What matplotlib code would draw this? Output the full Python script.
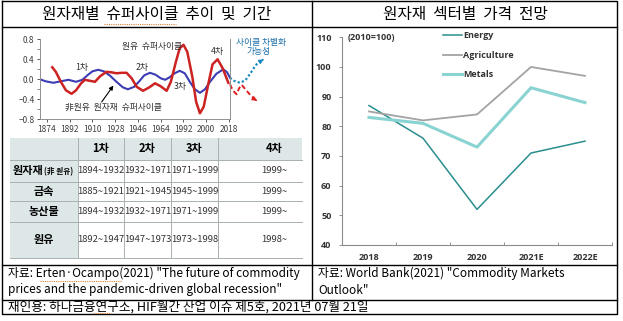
import numpy as np
import matplotlib
matplotlib.use('Agg')
import matplotlib.pyplot as plt
from matplotlib.patches import Rectangle
from matplotlib.ticker import MultipleLocator, FixedLocator

plt.rcParams['font.family'] = ['Noto Sans CJK KR', 'DejaVu Sans']

W, H = 623, 321

# ---- left panel: supercycle curves ----
tick_years = [1874, 1892, 1910, 1928, 1946, 1964, 1982, 2000, 2018]
tick_labels = ['1874', '1892', '1910', '1928', '1946', '1964', '1992', '2000', '2018']

nonoil_x = [1868.5, 1873, 1879, 1885, 1891, 1897, 1902, 1906, 1910, 1914.5, 1919, 1924,
            1929, 1934, 1938, 1943, 1947, 1951, 1955.5, 1960, 1964, 1967.5, 1971, 1975,
            1979, 1983, 1987, 1991, 1995, 1999, 2003, 2008, 2013.5, 2016.5, 2018.8]
nonoil_y = [0.00, -0.04, -0.07, -0.04, -0.01, -0.05, -0.01, 0.08, 0.16, 0.19, 0.16, 0.07,
            -0.05, -0.16, -0.20, -0.15, -0.04, 0.08, 0.13, 0.09, 0.02, -0.01, 0.04, 0.12,
            0.17, 0.12, -0.05, -0.20, -0.27, -0.20, -0.05, 0.11, 0.20, 0.14, 0.03]
nonoil_fx = [2018.8, 2022, 2026.7, 2031, 2035, 2039, 2043.9]
nonoil_fy = [0.03, -0.03, -0.07, -0.02, 0.12, 0.28, 0.39]

oil_x = [1878.2, 1881, 1885, 1889, 1893.5, 1897, 1901, 1904, 1908, 1912, 1916, 1921,
         1925, 1929, 1933, 1937, 1941, 1945, 1950, 1955, 1959.5, 1964, 1968.7, 1972,
         1976, 1979, 1982, 1985, 1989, 1992, 1995, 1998, 2002, 2005, 2009, 2013, 2017.5]
oil_y = [0.24, 0.15, -0.05, -0.22, -0.29, -0.22, -0.08, -0.01, -0.03, -0.05, 0.06, 0.15,
         0.14, 0.12, 0.13, 0.13, 0.02, -0.15, -0.23, -0.16, -0.08, -0.14, -0.23, -0.05,
         0.35, 0.62, 0.69, 0.55, 0.05, -0.45, -0.68, -0.55, -0.05, 0.30, 0.40, 0.22, -0.07]
oil_fx = [2018.8, 2021, 2024, 2026, 2028, 2031, 2035, 2038.6]
oil_fy = [-0.10, -0.22, -0.30, -0.18, -0.11, -0.20, -0.32, -0.40]

# ---- left panel: period table ----
table_cols = ['1차', '2차', '3차', '4차']
table_rows = ['금속', '농산물', '원유']
table_cells = [
    ['1894~1932', '1932~1971', '1971~1999', '1999~'],
    ['1885~1921', '1921~1945', '1945~1999', '1999~'],
    ['1894~1932', '1932~1971', '1971~1999', '1999~'],
    ['1892~1947', '1947~1973', '1973~1998', '1998~'],
]

# ---- right panel: sector price outlook ----
years = ['2018', '2019', '2020', '2021E', '2022E']
energy = [87, 76, 52, 71, 75]
agriculture = [85, 82, 84, 100, 97]
metals = [83, 81, 73, 93, 88]

fig = plt.figure(figsize=(W / 100, H / 100), dpi=100)

# overlay in pixel coordinates for the frame, table and notes
ov = fig.add_axes([0, 0, 1, 1])
ov.set_xlim(0, W)
ov.set_ylim(H, 0)
ov.axis('off')


def px_axes(x0, y0, x1, y1):
    return fig.add_axes([x0 / W, 1 - y1 / H, (x1 - x0) / W, (y1 - y0) / H])


lc = 'black'
ov.plot([2, 617, 617, 2, 2], [1, 1, 314, 314, 1], color=lc, lw=1)
ov.plot([2, 617], [27, 27], color=lc, lw=1)
ov.plot([2, 617], [265, 265], color=lc, lw=1)
ov.plot([2, 617], [300, 300], color=lc, lw=1)
ov.plot([312, 312], [1, 300], color=lc, lw=1)

ov.text(157, 14, '원자재별  슈퍼사이클  추이  및  기간', fontsize=11.3, ha='center', va='center')
ov.text(465, 14, '원자재  섹터별  가격  전망', fontsize=11.3, ha='center', va='center')

# spell-check squiggles seen in the screenshot
sq = dict(color='#e08030', lw=0.8, ls=(0, (1, 1)))
ov.plot([104, 176], [23.5, 23.5], **sq)
ov.plot([40, 122], [281, 281], **sq)
ov.plot([93, 110], [313, 313], **sq)

fs = 8.5
ov.text(8, 273, '자료: Erten·Ocampo(2021) "The future of commodity', fontsize=fs, va='center')
ov.text(8, 290, 'prices and the pandemic-driven global recession"', fontsize=fs, va='center')
ov.text(318, 273, '자료: World Bank(2021) "Commodity Markets', fontsize=fs, va='center')
ov.text(318, 290, 'Outlook"', fontsize=fs, va='center')
ov.text(8, 306.5, '재인용: 하나금융연구소, HIF월간 산업 이슈 제5호, 2021년 07월 21일', fontsize=9.1,
        va='center')

# table
xe = [10, 78, 124, 171, 218, 302]
ye = [137.7, 160, 181.7, 201, 221.7, 258.3]
cx = [(xe[1] + xe[2]) / 2, (xe[2] + xe[3]) / 2, (xe[3] + xe[4]) / 2, 274]
fill = '#dde7e7'
ov.add_patch(Rectangle((xe[0], ye[0]), xe[-1] - xe[0], ye[1] - ye[0], color=fill, lw=0))
ov.add_patch(Rectangle((xe[0], ye[1]), xe[1] - xe[0], ye[-1] - ye[1], color=fill, lw=0))
for yy in ye[1:]:
    ov.plot([xe[0], xe[-1]], [yy, yy], color='#a8b0b0', lw=0.7)
for xx in xe[1:-1]:
    ov.plot([xx, xx], [ye[0], ye[-1]], color='#a8b0b0', lw=0.7)
for j, name in enumerate(table_cols):
    ov.text(cx[j], (ye[0] + ye[1]) / 2, name, fontsize=8,
            fontweight='bold', ha='center', va='center')
ov.text(43.5, (ye[1] + ye[2]) / 2, '원자재', fontsize=8, fontweight='bold', ha='right', va='center')
ov.text(43.5, (ye[1] + ye[2]) / 2 + 0.5, '(非 원유)', fontsize=5.5, fontweight='bold', ha='left', va='center')
for i, name in enumerate(table_rows):
    ov.text((xe[0] + xe[1]) / 2, (ye[i + 2] + ye[i + 3]) / 2, name, fontsize=8,
            fontweight='bold', ha='center', va='center')
for i, row in enumerate(table_cells):
    for j, val in enumerate(row):
        ov.text(cx[j], (ye[i + 1] + ye[i + 2]) / 2, val, fontsize=6.8,
                color='#333333', ha='center', va='center')

# left chart
ax = px_axes(40, 39.3, 230, 119.3)
ax.plot(nonoil_x, nonoil_y, color='#3c3cb4', lw=1.5)
ax.plot(oil_x, oil_y, color='#cc2222', lw=1.8)
ax.plot(nonoil_fx, nonoil_fy, color='#1a8ac4', lw=1.6, ls=(0, (1, 1)), clip_on=False)
ax.plot(oil_fx, oil_fy, color='#e02020', lw=1.4, ls=(0, (2.5, 1.5)), clip_on=False)
ax.annotate('', xy=(nonoil_fx[-1] + 1.5, nonoil_fy[-1] + 0.01), xytext=(nonoil_fx[-1] - 1, nonoil_fy[-1] - 0.03),
            arrowprops=dict(arrowstyle='-|>', color='#1a8ac4', lw=1, mutation_scale=6), annotation_clip=False)
ax.annotate('', xy=(oil_fx[-1] + 1.5, oil_fy[-1] - 0.03), xytext=(oil_fx[-1] - 1, oil_fy[-1] + 0.01),
            arrowprops=dict(arrowstyle='-|>', color='#e02020', lw=1, mutation_scale=6), annotation_clip=False)
ax.set_xlim(1868.5, 2018.8)
ax.set_ylim(-0.8, 0.8)
ax.set_xticks(tick_years)
ax.set_xticklabels(tick_labels)
ax.yaxis.set_minor_locator(MultipleLocator(0.2))
ax.set_yticks([-0.8, -0.4, 0.0, 0.4, 0.8])
ax.set_yticklabels(['−0.8', '−0.4', '0.0', '0.4', '0.8'])
ax.tick_params(labelsize=6, colors='#404040', length=2, width=0.6, pad=2)
ax.tick_params(which='minor', length=2, width=0.6, color='#808080')
ax.spines['top'].set_visible(False)
for s in ['left', 'bottom', 'right']:
    ax.spines[s].set_color('#909090')
    ax.spines[s].set_linewidth(0.7)
ax.set_facecolor('none')
kw = dict(fontsize=6.3, color='#303030', ha='center', va='center')
ax.text(1901.5, 0.23, '1차', **kw)
ax.text(1949, 0.23, '2차', **kw)
ax.text(1979.2, -0.15, '3차', **kw)
ax.text(2009, 0.55, '4차', **kw)
ax.text(1956.8, 0.65, '원유  슈퍼사이클', **kw)
ax.text(1926.2, -0.56, '非원유  원자재  슈퍼사이클', **kw)
ax.text(2043.3, 0.73, '사이클 차별화', fontsize=6.3, color='#1a6fa8', ha='center', va='center', clip_on=False)
ax.text(2041, 0.55, '가능성', fontsize=6.3, color='#1a6fa8', ha='center', va='center', clip_on=False)
ax.annotate('', xy=(1927.8, -0.08), xytext=(1916, -0.50),
            arrowprops=dict(arrowstyle='-|>', color='black', lw=0.8, mutation_scale=6))

# right chart
ax2 = px_axes(342, 37.3, 612, 245)
xs = np.arange(len(years))
ax2.plot(xs, energy, color='#2a8e8e', lw=1.1, label='Energy')
ax2.plot(xs, agriculture, color='#a3a3a3', lw=1.3, label='Agriculture')
ax2.plot(xs, metals, color='#8ad3d3', lw=2.2, label='Metals')
ax2.set_xlim(-0.5, len(years) - 0.5)
ax2.set_ylim(40, 110)
ax2.set_yticks(range(40, 111, 10))
ax2.set_xticks(xs)
ax2.set_xticklabels(years)
ax2.xaxis.set_minor_locator(FixedLocator(np.arange(0.5, len(years), 1)))
ax2.tick_params(axis='x', which='major', length=0, pad=6)
ax2.tick_params(axis='x', which='minor', direction='in', length=2.5, width=0.6, color='#808080')
ax2.tick_params(axis='y', length=2.5, width=0.6, color='#808080', pad=5)
ax2.tick_params(labelsize=6.5, labelcolor='#333333')
for lab in ax2.get_xticklabels() + ax2.get_yticklabels():
    lab.set_fontweight('bold')
    lab.set_family(['Open Sans', 'DejaVu Sans'])
for s in ['top', 'right']:
    ax2.spines[s].set_visible(False)
for s in ['left', 'bottom']:
    ax2.spines[s].set_color('#8c8c8c')
    ax2.spines[s].set_linewidth(0.8)
ax2.set_facecolor('none')
ax2.text(0.022, 1.0, '(2010=100)', transform=ax2.transAxes, fontsize=6.5, fontweight='bold',
         color='#333333', va='center', family=['Open Sans', 'DejaVu Sans'])
leg = ax2.legend(loc='upper left', bbox_to_anchor=(0.374, 1.028), frameon=False, borderpad=0,
                 borderaxespad=0, handlelength=2.1, handletextpad=0.15, labelspacing=1.15,
                 prop={'family': ['Open Sans', 'DejaVu Sans'], 'weight': 'bold', 'size': 6.5})
for t in leg.get_texts():
    t.set_color('#333333')

fig.savefig('out.png', dpi=100)
